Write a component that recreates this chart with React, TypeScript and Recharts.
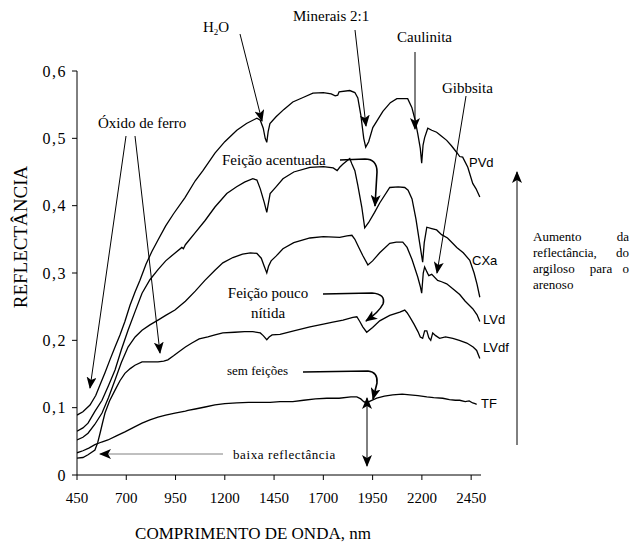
import { Line, LineChart, XAxis, YAxis } from "recharts";

// wavelength (nm), reflectance
const pvd: [number, number][] = [
  [450, 0.089], [480, 0.094], [516, 0.104], [545, 0.118], [567, 0.134], [592, 0.152],
  [617, 0.171], [643, 0.19], [668, 0.208], [693, 0.228], [719, 0.252], [745, 0.272],
  [769, 0.289], [800, 0.313], [830, 0.332], [861, 0.349], [900, 0.37], [940, 0.388],
  [998, 0.412], [1050, 0.437], [1089, 0.452], [1150, 0.478], [1200, 0.495], [1261, 0.512],
  [1310, 0.522], [1363, 0.53], [1380, 0.527], [1395, 0.515], [1405, 0.5], [1413, 0.494],
  [1420, 0.51], [1429, 0.522], [1460, 0.532], [1500, 0.543], [1545, 0.554], [1600, 0.561],
  [1647, 0.567], [1700, 0.568], [1740, 0.566], [1760, 0.563], [1773, 0.564], [1780, 0.569],
  [1834, 0.571], [1860, 0.568], [1875, 0.56], [1890, 0.535], [1905, 0.5], [1915, 0.487],
  [1930, 0.495], [1951, 0.516], [2002, 0.54], [2040, 0.553], [2073, 0.559], [2128, 0.559],
  [2149, 0.546], [2165, 0.528], [2179, 0.507], [2192, 0.485], [2199, 0.463], [2206, 0.49],
  [2214, 0.501], [2230, 0.515], [2250, 0.512], [2275, 0.509], [2300, 0.503], [2326, 0.497],
  [2350, 0.489], [2377, 0.479], [2392, 0.473], [2407, 0.472], [2433, 0.457], [2458, 0.433],
  [2475, 0.425], [2494, 0.413],
];

const cxa: [number, number][] = [
  [450, 0.065], [480, 0.07], [506, 0.077], [540, 0.094], [577, 0.111], [610, 0.133],
  [643, 0.156], [675, 0.186], [709, 0.215], [745, 0.243], [780, 0.27], [820, 0.29],
  [861, 0.305], [900, 0.318], [940, 0.328], [982, 0.338], [990, 0.336], [1000, 0.342],
  [1050, 0.36], [1100, 0.378], [1150, 0.398], [1210, 0.418], [1260, 0.428], [1300, 0.435],
  [1342, 0.44], [1363, 0.438], [1380, 0.425], [1400, 0.405], [1413, 0.39], [1422, 0.405],
  [1430, 0.418], [1460, 0.428], [1495, 0.44], [1550, 0.45], [1632, 0.457], [1700, 0.458],
  [1750, 0.456], [1770, 0.452], [1783, 0.457], [1800, 0.462], [1834, 0.47], [1845, 0.462],
  [1860, 0.452], [1875, 0.43], [1895, 0.398], [1910, 0.367], [1930, 0.375], [1960, 0.39],
  [1986, 0.404], [2037, 0.427], [2080, 0.428], [2113, 0.427], [2130, 0.423], [2150, 0.41],
  [2170, 0.38], [2189, 0.344], [2204, 0.316], [2212, 0.345], [2225, 0.368], [2250, 0.366],
  [2275, 0.364], [2300, 0.357], [2330, 0.352], [2360, 0.343], [2377, 0.338], [2410, 0.33],
  [2443, 0.319], [2465, 0.3], [2480, 0.283], [2494, 0.264],
];

const lvd: [number, number][] = [
  [450, 0.052], [480, 0.056], [506, 0.062], [540, 0.075], [577, 0.092], [610, 0.115],
  [643, 0.141], [675, 0.167], [709, 0.19], [745, 0.205], [780, 0.215], [820, 0.223],
  [861, 0.23], [900, 0.237], [947, 0.245], [1000, 0.258], [1050, 0.273], [1099, 0.289],
  [1150, 0.304], [1190, 0.315], [1241, 0.323], [1290, 0.328], [1330, 0.33], [1363, 0.329],
  [1385, 0.322], [1400, 0.31], [1413, 0.3], [1422, 0.31], [1435, 0.318], [1460, 0.325],
  [1495, 0.336], [1550, 0.345], [1632, 0.352], [1700, 0.354], [1783, 0.353], [1820, 0.355],
  [1845, 0.356], [1860, 0.35], [1880, 0.338], [1900, 0.326], [1926, 0.312], [1950, 0.318],
  [1986, 0.33], [2037, 0.344], [2070, 0.346], [2103, 0.346], [2125, 0.338], [2150, 0.32],
  [2179, 0.294], [2192, 0.28], [2199, 0.27], [2207, 0.3], [2214, 0.309], [2225, 0.302],
  [2235, 0.296], [2250, 0.298], [2280, 0.289], [2300, 0.287], [2326, 0.284], [2360, 0.276],
  [2392, 0.268], [2420, 0.258], [2458, 0.247], [2480, 0.238], [2494, 0.228],
];

const lvdf: [number, number][] = [
  [450, 0.025], [480, 0.026], [506, 0.03], [541, 0.037], [555, 0.048], [567, 0.062],
  [580, 0.078], [592, 0.092], [615, 0.11], [643, 0.126], [668, 0.14], [693, 0.151],
  [720, 0.158], [744, 0.163], [780, 0.168], [820, 0.168], [861, 0.168], [890, 0.169],
  [911, 0.171], [940, 0.177], [962, 0.182], [1000, 0.19], [1033, 0.196], [1070, 0.202],
  [1114, 0.205], [1150, 0.208], [1190, 0.211], [1250, 0.212], [1300, 0.213], [1342, 0.213],
  [1380, 0.211], [1395, 0.207], [1413, 0.201], [1425, 0.205], [1440, 0.208], [1480, 0.209],
  [1550, 0.214], [1632, 0.22], [1700, 0.224], [1748, 0.227], [1800, 0.23], [1850, 0.234],
  [1870, 0.235], [1885, 0.228], [1900, 0.22], [1920, 0.212], [1950, 0.219], [1986, 0.229],
  [2037, 0.237], [2088, 0.242], [2113, 0.245], [2125, 0.241], [2140, 0.234], [2160, 0.224],
  [2180, 0.213], [2192, 0.205], [2204, 0.203], [2214, 0.214], [2225, 0.214], [2235, 0.204],
  [2245, 0.2], [2255, 0.211], [2270, 0.207], [2290, 0.203], [2320, 0.205], [2357, 0.203],
  [2390, 0.2], [2428, 0.196], [2460, 0.19], [2478, 0.185], [2494, 0.173],
];

const tf: [number, number][] = [
  [450, 0.033], [480, 0.036], [510, 0.04], [541, 0.045], [575, 0.049], [607, 0.052],
  [650, 0.058], [693, 0.064], [740, 0.071], [780, 0.077], [820, 0.082], [861, 0.086],
  [900, 0.089], [947, 0.092], [1000, 0.095], [1013, 0.096], [1050, 0.098], [1100, 0.101],
  [1150, 0.104], [1200, 0.106], [1261, 0.107], [1320, 0.108], [1380, 0.108], [1430, 0.108],
  [1480, 0.109], [1545, 0.109], [1600, 0.111], [1660, 0.113], [1718, 0.114], [1780, 0.114],
  [1840, 0.116], [1870, 0.116], [1890, 0.113], [1905, 0.109], [1920, 0.107], [1940, 0.11],
  [1971, 0.114], [2010, 0.117], [2052, 0.119], [2100, 0.12], [2139, 0.119], [2180, 0.118],
  [2225, 0.116], [2260, 0.115], [2306, 0.114], [2340, 0.112], [2370, 0.111], [2392, 0.111],
  [2420, 0.109], [2440, 0.11], [2458, 0.107], [2470, 0.106], [2478, 0.105],
];

const xTicks = [450, 700, 950, 1200, 1450, 1700, 1950, 2200, 2450];
const yTicks = [0, 0.1, 0.2, 0.3, 0.4, 0.5, 0.6];

const seriesList = [
  { name: "PVd", pts: pvd },
  { name: "CXa", pts: cxa },
  { name: "LVd", pts: lvd },
  { name: "LVdf", pts: lvdf },
  { name: "TF", pts: tf },
];

const serif = "'Liberation Serif', 'Times New Roman', serif";
const sans = "'Liberation Sans', Arial, sans-serif";

function Arrow({ x1, y1, x2, y2, color = "#000", both = false }: {
  x1: number; y1: number; x2: number; y2: number; color?: string; both?: boolean;
}) {
  return (
    <line x1={x1} y1={y1} x2={x2} y2={y2} stroke={color} strokeWidth={1}
      markerEnd="url(#ah)" markerStart={both ? "url(#ah)" : undefined} />
  );
}

function Notes() {
  return (
    <svg width={631} height={547} style={{ position: "absolute", left: 0, top: 0 }}>
      <defs>
        <marker id="ah" viewBox="0 0 12 10" refX={11} refY={5} markerWidth={12} markerHeight={10}
          markerUnits="userSpaceOnUse" orient="auto-start-reverse">
          <path d="M0,0 L12,5 L0,10 L3,5 z" fill="#000" />
        </marker>
      </defs>

      <g fontFamily={serif} fontSize={15} fill="#000">
        <text x={203} y={32}>H<tspan fontSize={9} dy={3}>2</tspan><tspan dy={-3}>O</tspan></text>
        <text x={293} y={21}>Minerais 2:1</text>
        <text x={397} y={42}>Caulinita</text>
        <text x={442} y={93}>Gibbsita</text>
        <text x={98} y={128}>Óxido de ferro</text>
        <text x={222} y={165}>Feição acentuada</text>
        <text x={268} y={298} textAnchor="middle">Feição pouco</text>
        <text x={268} y={318} textAnchor="middle">nítida</text>
        <text x={227} y={375} fontSize={13}>sem feições</text>
        <text x={233} y={459} fontSize={13} letterSpacing={0.6}>baixa reflectância</text>
      </g>

      <g fontFamily={serif} fontSize={13} fill="#000">
        <text x={533} y={241}>Aumento</text>
        <text x={629} y={241} textAnchor="end">da</text>
        <text x={533} y={257}>reflectância,</text>
        <text x={629} y={257} textAnchor="end">do</text>
        <text x={533} y={273}>argiloso</text>
        <text x={601} y={273} textAnchor="middle">para</text>
        <text x={629} y={273} textAnchor="end">o</text>
        <text x={533} y={289}>arenoso</text>
      </g>

      <g fontFamily={sans} fontSize={13} fill="#000">
        <text x={469} y={167}>PVd</text>
        <text x={472} y={265}>CXa</text>
        <text x={483} y={324}>LVd</text>
        <text x={483} y={352}>LVdf</text>
        <text x={481} y={408}>TF</text>
      </g>

      <Arrow x1={240} y1={34} x2={262} y2={121} />
      <Arrow x1={355} y1={30} x2={366} y2={126} />
      <Arrow x1={415} y1={52} x2={415} y2={129} />
      <Arrow x1={466} y1={96} x2={437} y2={273} />
      <Arrow x1={126} y1={136} x2={90} y2={388} />
      <Arrow x1={135} y1={136} x2={160} y2={353} />
      <Arrow x1={223} y1={454} x2={100} y2={454} color="#808080" />
      <Arrow x1={367} y1={398} x2={367} y2={466} both />
      <Arrow x1={517} y1={445} x2={517} y2={172} />

      <path d="M340,160 L365,159 Q377,159 377,172 L375,206" fill="none" stroke="#000" strokeWidth={1.6}
        markerEnd="url(#ah)" />
      <path d="M323,294 L372,293 Q386,294 383,304 Q379,312 366,321" fill="none" stroke="#000" strokeWidth={1.6}
        markerEnd="url(#ah)" />
      <path d="M303,372 L368,371 Q378,372 377,383 L373,399" fill="none" stroke="#000" strokeWidth={1.6}
        markerEnd="url(#ah)" />

      <text x={20} y={237} fontFamily={serif} fontSize={19} textAnchor="middle"
        transform="rotate(-90 20 237)" dominantBaseline="central">REFLECTÂNCIA</text>
      <text x={253} y={539} fontFamily={serif} fontSize={17} textAnchor="middle">
        COMPRIMENTO DE ONDA, nm
      </text>
    </svg>
  );
}

export default function App() {
  return (
    <div style={{ position: "absolute", left: 0, top: 0, width: 631, height: 547, background: "#fff" }}>
      <LineChart width={631} height={547} margin={{ top: 71, right: 150, bottom: 0, left: 0 }}>
        <XAxis
          dataKey="nm"
          type="number"
          domain={[450, 2500]}
          ticks={xTicks}
          allowDataOverflow
          height={72}
          stroke="#000"
          tickSize={5}
          tickMargin={12}
          tick={{ fill: "#000", fontSize: 15, fontFamily: serif }}
        />
        <YAxis
          type="number"
          domain={[0, 0.6]}
          ticks={yTicks}
          width={77}
          stroke="#000"
          tickSize={5}
          tickMargin={5}
          tick={{ fill: "#000", fontSize: 16, fontFamily: serif, letterSpacing: 1.5 }}
          tickFormatter={(v: number) => (v === 0 ? "0" : v.toFixed(1).replace(".", ","))}
        />
        {seriesList.map((s) => (
          <Line
            key={s.name}
            data={s.pts.map(([nm, r]) => ({ nm, r }))}
            dataKey="r"
            type="linear"
            stroke="#000"
            strokeWidth={1.3}
            dot={false}
            activeDot={false}
            isAnimationActive={false}
          />
        ))}
      </LineChart>
      <Notes />
    </div>
  );
}
